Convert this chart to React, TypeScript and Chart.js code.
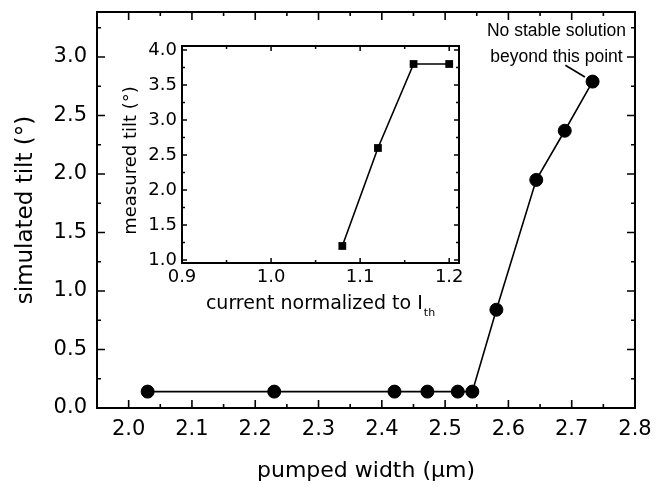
import React, { useEffect, useRef } from "react";
import { Chart, registerables } from "chart.js";

Chart.register(...registerables);

// ---------------- data ----------------
const pumpedWidth = [2.03, 2.23, 2.42, 2.472, 2.52, 2.543, 2.581, 2.644, 2.689, 2.733];
const simulatedTilt = [0.14, 0.14, 0.14, 0.14, 0.14, 0.14, 0.84, 1.95, 2.37, 2.79];
const currentNorm = [1.08, 1.12, 1.16, 1.2];
const measuredTilt = [1.2, 2.6, 3.8, 3.8];

const mainXTicks = [2.0, 2.1, 2.2, 2.3, 2.4, 2.5, 2.6, 2.7, 2.8];
const mainXMinor = [2.05, 2.15, 2.25, 2.35, 2.45, 2.55, 2.65, 2.75];
const mainYTicks = [0, 0.5, 1.0, 1.5, 2.0, 2.5, 3.0];
const mainYMinor = [0.25, 0.75, 1.25, 1.75, 2.25, 2.75, 3.25];
const insetXTicks = [0.9, 1.0, 1.1, 1.2];
const insetXMinor = [0.95, 1.05, 1.15];
const insetYTicks = [1.0, 1.5, 2.0, 2.5, 3.0, 3.5, 4.0];
const insetYMinor = [1.25, 1.75, 2.25, 2.75, 3.25, 3.75];

const mainXTitle = "pumped width (μm)";
const mainYTitle = "simulated tilt (°)";
const insetYTitle = "measured tilt (°)";
const insetXTitle = "current normalized to I";
const insetXTitleSub = "th";

const noteLines = ["No stable solution", "beyond this point"];
const noteX = 2.676;
const noteY = [3.222, 3.0];
const leaderStart = { x: 2.69, y: 2.93 };

const FONT = "'DejaVu Sans', sans-serif";

function framePlugin(cfg: any) {
  return {
    id: "frame_" + cfg.id,
    afterDraw(chart: any) {
      const { ctx, chartArea } = chart;
      const { left, right, top, bottom } = chartArea;
      const xs = chart.scales.x;
      const ys = chart.scales.y;
      ctx.save();
      ctx.strokeStyle = "#000";
      ctx.lineWidth = cfg.tickWidth;
      ctx.beginPath();
      const vx = (vals: number[], len: number) =>
        vals.forEach((v) => {
          const p = xs.getPixelForValue(v);
          ctx.moveTo(p, bottom);
          ctx.lineTo(p, bottom - len);
          ctx.moveTo(p, top);
          ctx.lineTo(p, top + len);
        });
      const vy = (vals: number[], len: number) =>
        vals.forEach((v) => {
          const p = ys.getPixelForValue(v);
          ctx.moveTo(left, p);
          ctx.lineTo(left + len, p);
          ctx.moveTo(right, p);
          ctx.lineTo(right - len, p);
        });
      vx(cfg.xMajor, cfg.major);
      vx(cfg.xMinor, cfg.minor);
      vy(cfg.yMajor, cfg.major);
      vy(cfg.yMinor, cfg.minor);
      ctx.stroke();
      ctx.lineWidth = cfg.frameWidth;
      ctx.strokeRect(left, top, right - left, bottom - top);
      ctx.restore();
    },
  };
}

const notePlugin = {
  id: "note",
  afterDraw(chart: any) {
    const { ctx } = chart;
    const xs = chart.scales.x;
    const ys = chart.scales.y;
    ctx.save();
    ctx.fillStyle = "#000";
    ctx.font = "17.5px 'Liberation Sans', Arial, sans-serif";
    ctx.textAlign = "center";
    ctx.textBaseline = "middle";
    noteLines.forEach((t, i) =>
      ctx.fillText(t, xs.getPixelForValue(noteX), ys.getPixelForValue(noteY[i]))
    );
    const last = pumpedWidth.length - 1;
    const px = xs.getPixelForValue(pumpedWidth[last]);
    const py = ys.getPixelForValue(simulatedTilt[last]);
    const sx = xs.getPixelForValue(leaderStart.x);
    const sy = ys.getPixelForValue(leaderStart.y);
    const d = Math.hypot(px - sx, py - sy);
    const gap = 9;
    ctx.beginPath();
    ctx.moveTo(sx, sy);
    ctx.lineTo(px - ((px - sx) / d) * gap, py - ((py - sy) / d) * gap);
    ctx.lineWidth = 1.6;
    ctx.strokeStyle = "#000";
    ctx.stroke();
    ctx.restore();
  },
};

const insetTitlesPlugin = {
  id: "insetTitles",
  afterDraw(chart: any) {
    const { ctx, chartArea } = chart;
    ctx.save();
    ctx.fillStyle = "#000";
    ctx.font = `18px ${FONT}`;
    ctx.textAlign = "center";
    ctx.textBaseline = "middle";
    ctx.translate(21, (chartArea.top + chartArea.bottom) / 2 + 6);
    ctx.rotate(-Math.PI / 2);
    ctx.fillText(insetYTitle, 0, 0);
    ctx.restore();

    ctx.save();
    ctx.fillStyle = "#000";
    ctx.textAlign = "left";
    ctx.textBaseline = "alphabetic";
    ctx.font = `19px ${FONT}`;
    const w1 = ctx.measureText(insetXTitle).width;
    ctx.font = `11px ${FONT}`;
    const w2 = ctx.measureText(insetXTitleSub).width;
    const cx = (chartArea.left + chartArea.right) / 2;
    const x0 = cx - (w1 + w2 + 1) / 2;
    const base = chartArea.bottom + 46;
    ctx.font = `19px ${FONT}`;
    ctx.fillText(insetXTitle, x0, base);
    ctx.font = `11px ${FONT}`;
    ctx.fillText(insetXTitleSub, x0 + w1 + 1, base + 7);
    ctx.restore();
  },
};

const fmt = (v: any) => Number(v).toFixed(1);

export default function App() {
  const mainRef = useRef<HTMLCanvasElement>(null);
  const insetRef = useRef<HTMLCanvasElement>(null);

  useEffect(() => {
    const main = new Chart(mainRef.current as HTMLCanvasElement, {
      type: "scatter",
      data: {
        datasets: [
          {
            data: pumpedWidth.map((x, i) => ({ x, y: simulatedTilt[i] })),
            showLine: true,
            borderColor: "#000",
            borderWidth: 1.6,
            pointRadius: 6.5,
            pointBackgroundColor: "#000",
            pointBorderColor: "#000",
            pointBorderWidth: 1,
            pointStyle: "circle",
          },
        ],
      },
      options: {
        animation: false,
        responsive: false,
        maintainAspectRatio: false,
        layout: { padding: { left: 0, right: 20, top: 12, bottom: 0 } },
        plugins: { legend: { display: false }, tooltip: { enabled: false } },
        scales: {
          x: {
            type: "linear",
            min: 1.95,
            max: 2.8,
            afterBuildTicks: (s: any) => {
              s.ticks = mainXTicks.map((v) => ({ value: v }));
            },
            afterFit: (s: any) => {
              s.height = 79;
              s.paddingLeft = 0;
              s.paddingRight = 0;
            },
            grid: { display: false, drawTicks: false },
            border: { display: false },
            ticks: {
              color: "#000",
              font: { family: FONT, size: 21 },
              padding: 9,
              maxRotation: 0,
              autoSkip: false,
              callback: fmt,
            },
            title: {
              display: true,
              text: mainXTitle,
              color: "#000",
              font: { family: FONT, size: 22 },
              padding: { top: 0, bottom: 3 },
            },
          },
          y: {
            type: "linear",
            min: 0,
            max: 3.385,
            afterBuildTicks: (s: any) => {
              s.ticks = mainYTicks.map((v) => ({ value: v }));
            },
            afterFit: (s: any) => {
              s.width = 97;
              s.paddingTop = 0;
              s.paddingBottom = 0;
            },
            grid: { display: false, drawTicks: false },
            border: { display: false },
            ticks: {
              color: "#000",
              font: { family: FONT, size: 21 },
              padding: 10,
              autoSkip: false,
              callback: fmt,
            },
            title: {
              display: true,
              text: mainYTitle,
              color: "#000",
              font: { family: FONT, size: 23 },
              padding: { top: 12, bottom: 0 },
            },
          },
        },
      },
      plugins: [
        framePlugin({
          id: "main",
          xMajor: mainXTicks,
          xMinor: mainXMinor,
          yMajor: mainYTicks,
          yMinor: mainYMinor,
          major: 8,
          minor: 4,
          tickWidth: 1.6,
          frameWidth: 2,
        }),
        notePlugin,
      ],
    } as any);

    const inset = new Chart(insetRef.current as HTMLCanvasElement, {
      type: "scatter",
      data: {
        datasets: [
          {
            data: currentNorm.map((x, i) => ({ x, y: measuredTilt[i] })),
            showLine: true,
            borderColor: "#000",
            borderWidth: 1.6,
            pointRadius: 5.5,
            pointBackgroundColor: "#000",
            pointBorderColor: "#000",
            pointBorderWidth: 0,
            pointStyle: "rect",
          },
        ],
      },
      options: {
        animation: false,
        responsive: false,
        maintainAspectRatio: false,
        layout: { padding: { left: 0, right: 11, top: 10, bottom: 0 } },
        plugins: { legend: { display: false }, tooltip: { enabled: false } },
        scales: {
          x: {
            type: "linear",
            min: 0.9,
            max: 1.211,
            afterBuildTicks: (s: any) => {
              s.ticks = insetXTicks.map((v) => ({ value: v }));
            },
            afterFit: (s: any) => {
              s.height = 63;
              s.paddingLeft = 0;
              s.paddingRight = 0;
            },
            grid: { display: false, drawTicks: false },
            border: { display: false },
            ticks: {
              color: "#000",
              font: { family: FONT, size: 18 },
              padding: 4,
              maxRotation: 0,
              autoSkip: false,
              callback: fmt,
            },
          },
          y: {
            type: "linear",
            min: 0.957,
            max: 4.057,
            afterBuildTicks: (s: any) => {
              s.ticks = insetYTicks.map((v) => ({ value: v }));
            },
            afterFit: (s: any) => {
              s.width = 72;
              s.paddingTop = 0;
              s.paddingBottom = 0;
            },
            grid: { display: false, drawTicks: false },
            border: { display: false },
            ticks: {
              color: "#000",
              font: { family: FONT, size: 18 },
              padding: 5,
              autoSkip: false,
              callback: fmt,
            },
          },
        },
      },
      plugins: [
        framePlugin({
          id: "inset",
          xMajor: insetXTicks,
          xMinor: insetXMinor,
          yMajor: insetYTicks,
          yMinor: insetYMinor,
          major: 5,
          minor: 3,
          tickWidth: 1.5,
          frameWidth: 2,
        }),
        insetTitlesPlugin,
      ],
    } as any);

    return () => {
      main.destroy();
      inset.destroy();
    };
  }, []);

  return (
    <div
      style={{
        position: "fixed",
        left: 0,
        top: 0,
        width: 655,
        height: 487,
        background: "#fff",
      }}
    >
      <canvas
        ref={mainRef}
        width={655}
        height={487}
        style={{ position: "absolute", left: 0, top: 0 }}
      />
      <canvas
        ref={insetRef}
        width={360}
        height={290}
        style={{ position: "absolute", left: 110, top: 36 }}
      />
    </div>
  );
}
